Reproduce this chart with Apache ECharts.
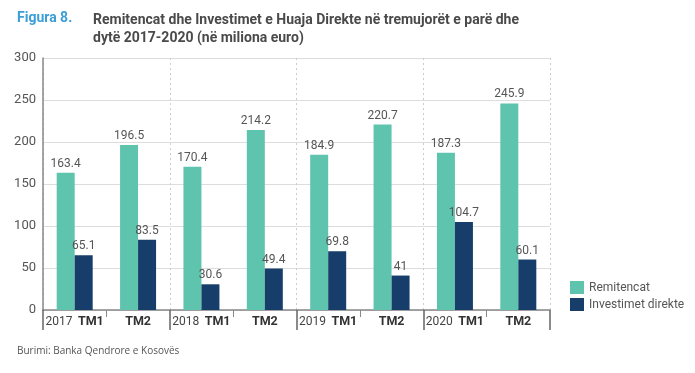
<!DOCTYPE html>
<html>
<head>
<meta charset="utf-8">
<script src="https://cdn.jsdelivr.net/npm/echarts@6/dist/echarts.min.js"></script>
<style>html,body{margin:0;padding:0;background:#fff}#c{width:695px;height:373px}</style>
</head>
<body>
<div id="c"></div>
<script>
const quarters = ['TM1','TM2','TM1','TM2','TM1','TM2','TM1','TM2'];
const years = ['2017','','2018','','2019','','2020',''];
const remitencat = [163.4,196.5,170.4,214.2,184.9,220.7,187.3,245.9];
const investimet = [65.1,83.5,30.6,49.4,69.8,41,104.7,60.1];
const yTicks = [0,50,100,150,200,250,300];

const chart = echarts.init(document.getElementById('c'), null, {renderer:'canvas'});
const font = 'Roboto, "Liberation Sans", sans-serif';
chart.setOption({
  animation:false,
  backgroundColor:'#fff',
  title:[
    {text:'Figura 8.', left:17, top:11, padding:0, textStyle:{color:'#3a9fd6', fontSize:14, fontWeight:'bold', fontFamily:font}},
    {text:'Remitencat dhe Investimet e Huaja Direkte në tremujorët e parë dhe\ndytë 2017-2020 (në miliona euro)', left:93, top:11, padding:0,
     textStyle:{color:'#4a4a4a', fontSize:14, fontWeight:'bold', fontFamily:font, lineHeight:18}},
    {text:'Burimi: Banka Qendrore e Kosovës', left:17, top:346, padding:0, textStyle:{color:'#555', fontSize:10, fontWeight:'normal', fontFamily:'"Open Sans", sans-serif'}}
  ],
  legend:{
    orient:'vertical', left:570, top:281, padding:0, itemWidth:14, itemHeight:13, itemGap:4, icon:'rect',
    textStyle:{color:'#555', fontSize:12, fontFamily:font},
    data:['Remitencat','Investimet direkte']
  },
  grid:{left:43, right:145, top:58, bottom:63},
  xAxis:[
    {type:'category', data:quarters, position:'bottom',
     axisLine:{show:true, lineStyle:{color:'#888', width:1.5}},
     axisTick:{show:true, length:20, interval:(i)=>i%2===0, lineStyle:{color:'#666', width:1.5}},
     splitLine:{show:true, interval:(i)=>i%2===0, lineStyle:{color:'#ccc', type:[2,3], width:1}},
     axisLabel:{interval:0, margin:5,
       formatter:(v,i)=> years[i] ? '{y|'+years[i]+'} {b|'+v+'}' : '{b|'+v+'}',
       rich:{y:{fontSize:12, color:'#444', fontFamily:font, padding:[0,2,0,0]}, b:{fontSize:12.5, color:'#333', fontWeight:'bold', fontFamily:font}}}
    },
    {type:'category', data:quarters, position:'bottom', offset:0,
     axisLine:{show:false},
     axisTick:{show:true, length:7, interval:(i)=>i%2===1, lineStyle:{color:'#888', width:1}},
     axisLabel:{show:false}, splitLine:{show:false}
    }
  ],
  yAxis:{type:'value', min:yTicks[0], max:yTicks[yTicks.length-1], interval:50,
    axisLine:{show:true, lineStyle:{color:'#888', width:1.5}},
    axisTick:{show:false},
    axisLabel:{color:'#555', fontSize:13, margin:7, fontFamily:font},
    splitLine:{lineStyle:{color:'#ddd', width:1}}
  },
  series:[
    {name:'Remitencat', type:'bar', data:remitencat, barWidth:18, barGap:'0%', xAxisIndex:0,
     itemStyle:{color:'#5fc4ae'},
     label:{show:true, position:'top', distance:3, color:'#555', fontSize:12, fontFamily:font}},
    {name:'Investimet direkte', type:'bar', data:investimet, barWidth:18, barGap:'0%', xAxisIndex:0,
     itemStyle:{color:'#173e6a'},
     label:{show:true, position:'top', distance:3, color:'#555', fontSize:12, fontFamily:font}}
  ]
});
</script>
</body>
</html>
